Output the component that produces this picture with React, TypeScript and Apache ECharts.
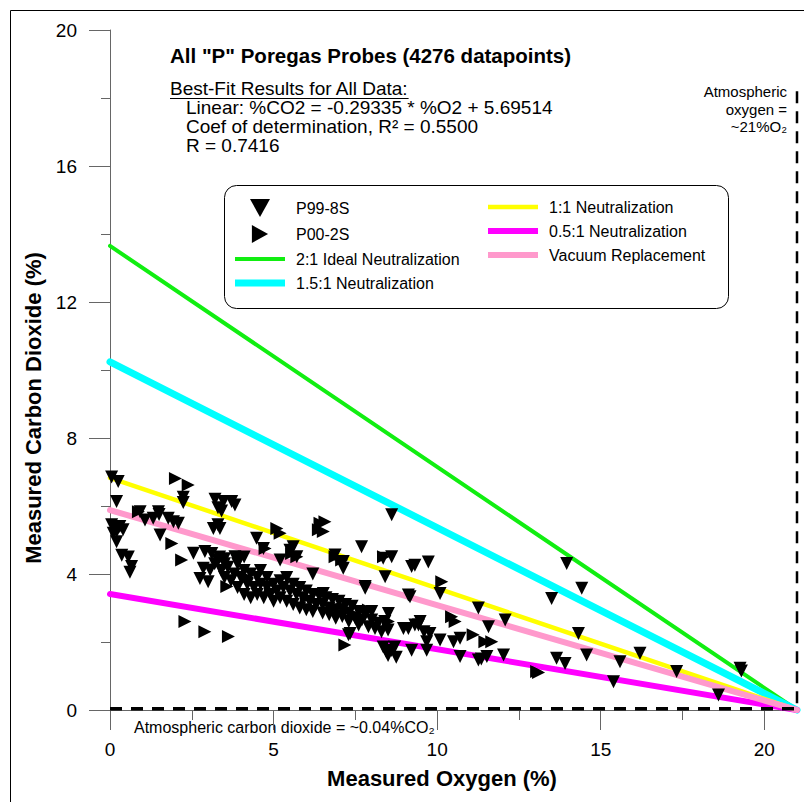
import React, { useEffect, useRef } from 'react';
import * as echarts from 'echarts';

// ---- data ----
const xTickValues = [0, 5, 10, 15, 20];
const xMinorTickValues = [2.5, 7.5, 12.5, 17.5];

const seriesNames = [
  'P99-8S',
  'P00-2S',
  '2:1 Ideal Neutralization',
  '1.5:1 Neutralization',
  '1:1 Neutralization',
  '0.5:1 Neutralization',
  'Vacuum Replacement',
];

const idealNeutralization = [[0, 13.65], [21, 0]];
const neutralization15 = [[0, 10.24], [21, 0]];
const neutralization1 = [[0, 6.83], [21, 0]];
const neutralization05 = [[0, 3.41], [21, 0]];
const vacuumReplacement = [[0, 5.88], [21, 0]];
const atmosphericCO2Line = [[0, 0.04], [21, 0.04]];
const atmosphericO2Line = [[21, 18.2], [21, 0]];

const p99_8S = [
  [0.05, 6.85], [0.25, 6.72], [0.2, 6.13], [0.05, 5.45], [0.15, 5.35], [0.3, 5.4], [0.4, 5.3],
  [0.2, 5.25], [0.1, 5.2], [0.2, 4.95], [0.36, 4.55], [0.56, 4.5], [0.66, 4.22], [0.61, 4.05],
  [0.92, 5.83], [1.07, 5.59], [1.32, 5.64], [1.48, 5.83], [1.5, 5.75], [1.78, 5.64], [1.94, 5.54],
  [2.09, 5.49], [1.53, 5.15], [2.24, 6.26], [2.24, 6.1], [3.21, 6.2], [3.47, 6.13], [3.72, 6.13],
  [3.82, 6.03], [3.3, 5.95], [3.41, 5.85], [3.16, 5.34], [3.36, 5.34], [3.3, 5.45],
  [2.55, 4.61], [2.9, 4.66], [3.11, 4.6], [2.85, 4.17], [3.06, 4.12], [2.75, 3.87], [3.0, 3.77],
  [3.2, 4.3], [3.35, 4.5], [3.5, 4.45], [3.82, 4.51], [3.97, 4.46], [4.48, 5.05], [4.69, 4.75],
  [5.6, 4.8], [5.5, 4.7], [5.71, 4.51], [5.2, 4.41],
  [6.88, 4.56], [7.13, 4.37], [7.13, 4.17], [7.69, 4.8], [8.35, 4.46], [8.61, 4.51], [8.61, 5.74],
  [9.22, 4.22], [9.73, 4.35], [9.32, 4.26], [8.41, 3.92], [7.8, 3.58], [9.17, 3.33], [6.52, 3.43],
  [6.2, 4.0], [4.1, 4.5],
  [3.3, 4.4], [3.4, 4.1], [3.5, 4.3], [3.5, 3.9], [3.6, 4.2], [3.7, 3.8], [3.8, 4.0], [3.9, 4.3],
  [3.9, 3.6], [4.0, 3.9], [4.1, 4.1], [4.1, 3.4], [4.2, 3.7], [4.3, 4.0], [4.3, 3.3], [4.4, 3.6],
  [4.5, 3.9], [4.5, 3.4], [4.6, 3.7], [4.6, 4.1], [4.7, 3.3], [4.8, 3.6], [4.8, 3.9], [4.9, 3.4],
  [5.0, 3.7], [5.0, 3.2], [5.1, 3.5], [5.2, 3.8], [5.2, 3.3], [5.3, 3.6], [5.4, 3.2], [5.4, 3.9],
  [5.5, 3.5], [5.6, 3.1], [5.6, 3.7], [5.7, 3.4], [5.8, 3.0], [5.8, 3.6], [5.9, 3.3], [6.0, 3.5],
  [6.0, 2.95], [6.1, 3.2], [6.2, 3.4], [6.2, 2.9], [6.3, 3.1], [6.4, 3.35], [6.5, 2.85], [6.5, 3.1],
  [6.6, 3.3], [6.7, 2.8], [6.7, 3.0], [6.8, 3.25], [6.9, 2.7], [6.9, 2.95], [7.0, 3.2], [7.1, 2.75],
  [7.1, 2.95], [7.2, 3.1], [7.3, 2.6], [7.3, 2.85], [7.4, 3.05], [7.5, 2.7], [7.6, 2.5], [7.6, 2.9],
  [7.7, 2.65], [7.8, 2.8], [7.9, 2.45], [8.0, 2.65], [8.0, 2.9], [8.1, 2.4], [8.2, 2.55], [8.3, 2.3],
  [8.4, 2.6], [8.5, 2.35],
  [8.35, 1.85], [8.5, 1.6], [8.6, 1.75], [8.75, 1.55], [8.45, 1.7], [8.7, 1.85], [9.22, 1.76],
  [9.12, 2.4], [9.43, 2.5], [8.97, 2.4], [9.32, 2.5], [7.34, 2.25], [7.29, 2.21], [9.68, 2.01],
  [9.68, 1.76], [9.78, 2.25], [9.6, 2.3], [10.09, 2.06], [10.5, 2.01], [10.7, 2.11], [10.7, 1.57],
  [9.48, 2.6], [11.26, 3.0], [11.57, 2.45], [12.08, 2.65], [11.26, 1.47], [11.35, 1.5], [11.52, 1.57],
  [12.03, 1.62], [10.09, 3.43], [9.12, 3.38], [7.8, 3.63], [8.51, 2.84],
  [13.96, 4.31], [14.42, 3.58], [13.5, 3.28], [14.32, 2.25], [14.57, 1.62], [13.65, 1.52],
  [13.91, 1.37], [15.59, 1.42], [15.39, 0.83], [16.2, 1.67], [17.32, 1.13], [19.26, 1.23],
  [19.3, 1.15], [18.6, 0.44],
];

const p00_2S = [
  [0.87, 5.83], [2.0, 6.81], [2.39, 6.62], [1.89, 4.9], [2.19, 4.41], [3.57, 3.63], [5.1, 5.34],
  [5.2, 5.2], [6.42, 5.49], [6.57, 5.54], [6.52, 5.25], [6.37, 5.3], [6.88, 4.51], [7.08, 4.41],
  [8.36, 4.51], [5.71, 4.51], [5.55, 4.6], [4.74, 4.75], [2.29, 2.6], [2.9, 2.3], [3.62, 2.16],
  [7.18, 1.91], [8.51, 2.6], [7.9, 2.94], [10.14, 3.77], [10.44, 2.74], [10.55, 2.6], [11.1, 2.21],
  [11.46, 2.01], [11.67, 2.01], [13.04, 1.13], [13.1, 1.1], [4.9, 3.5], [6.0, 3.3], [7.5, 2.8],
  [4.2, 3.9],
];

const FONT = '"Liberation Sans", Arial, Helvetica, sans-serif';
const AXIS_GRAY = '#666666';
const DOWN_TRI = 'path://M0,0 L20,0 L10,18 Z';
const RIGHT_TRI = 'path://M0,0 L18,10 L0,20 Z';
const bar = (h: number) => `path://M0,0 L50,0 L50,${h} L0,${h} Z`;

function textWidth(text: string, font: string) {
  const c = document.createElement('canvas').getContext('2d');
  if (!c) return 0;
  c.font = font;
  return c.measureText(text).width;
}

export default function App() {
  const ref = useRef<HTMLDivElement>(null);

  useEffect(() => {
    if (!ref.current) return;
    const chart = echarts.init(ref.current, null, { renderer: 'svg' });

    const lineSeries = (name: string, data: number[][], color: string, width: number) => ({
      name,
      type: 'line',
      data,
      symbol: 'none',
      clip: false,
      z: 2,
      lineStyle: { color, width, cap: 'round' },
      itemStyle: { color },
    });

    const legendText = { fontSize: 16, fontFamily: FONT, color: '#000', padding: [0, 0, 0, 6] };
    const annFont = `19px ${FONT}`;
    const bestFitText = 'Best-Fit Results for All Data:';
    const underlineW = textWidth(bestFitText, annFont) || 240;

    chart.setOption({
      animation: false,
      textStyle: { fontFamily: FONT },
      grid: { left: 110, top: 30, right: 7, bottom: 92, containLabel: false },
      xAxis: [
        {
          type: 'value',
          min: 0,
          max: 21,
          position: 'bottom',
          axisLine: { show: true, onZero: false, lineStyle: { color: AXIS_GRAY, width: 1 } },
          axisTick: { show: true, customValues: xTickValues, length: 20, lineStyle: { color: AXIS_GRAY } },
          axisLabel: { customValues: xTickValues, fontSize: 19, color: '#000', margin: 30, fontFamily: FONT },
          splitLine: { show: false },
        },
        {
          type: 'value',
          min: 0,
          max: 21,
          position: 'bottom',
          axisLine: { show: false },
          axisTick: { show: true, customValues: xMinorTickValues, length: 10, lineStyle: { color: AXIS_GRAY } },
          axisLabel: { show: false },
          splitLine: { show: false },
        },
      ],
      yAxis: {
        type: 'value',
        min: 0,
        max: 20,
        interval: 4,
        axisLine: { show: true, onZero: false, lineStyle: { color: AXIS_GRAY, width: 1 } },
        axisTick: { show: true, length: 21, lineStyle: { color: AXIS_GRAY } },
        minorTick: { show: true, splitNumber: 2, length: 9, lineStyle: { color: AXIS_GRAY } },
        axisLabel: { fontSize: 19, color: '#000', margin: 33, fontFamily: FONT },
        splitLine: { show: false },
      },
      legend: [
        {
          orient: 'vertical',
          left: 235,
          top: 199,
          padding: 0,
          itemWidth: 50,
          itemHeight: 18,
          itemGap: 8,
          selectedMode: false,
          data: [
            { name: seriesNames[0], icon: DOWN_TRI },
            { name: seriesNames[1], icon: RIGHT_TRI },
            { name: seriesNames[2], icon: bar(4) },
            { name: seriesNames[3], icon: bar(7) },
          ],
          textStyle: legendText,
        },
        {
          orient: 'vertical',
          left: 488,
          top: 199,
          padding: 0,
          itemWidth: 50,
          itemHeight: 18,
          itemGap: 8,
          selectedMode: false,
          data: [
            { name: seriesNames[4], icon: bar(4.5) },
            { name: seriesNames[5], icon: bar(6) },
            { name: seriesNames[6], icon: bar(6) },
          ],
          textStyle: legendText,
        },
      ],
      series: [
        {
          name: seriesNames[0],
          type: 'scatter',
          data: p99_8S,
          symbol: 'triangle',
          symbolRotate: 180,
          symbolSize: 13,
          z: 3,
          itemStyle: { color: '#000', opacity: 1 },
        },
        {
          name: seriesNames[1],
          type: 'scatter',
          data: p00_2S,
          symbol: 'triangle',
          symbolRotate: -90,
          symbolSize: 13,
          z: 3,
          itemStyle: { color: '#000', opacity: 1 },
        },
        lineSeries(seriesNames[2], idealNeutralization, '#11ee11', 4),
        lineSeries(seriesNames[3], neutralization15, '#00ffff', 7),
        lineSeries(seriesNames[4], neutralization1, '#ffff00', 4.5),
        lineSeries(seriesNames[5], neutralization05, '#ff00ff', 6),
        lineSeries(seriesNames[6], vacuumReplacement, '#ff99cc', 6),
        {
          name: 'atmCO2',
          type: 'line',
          data: atmosphericCO2Line,
          symbol: 'none',
          clip: false,
          z: 4,
          lineStyle: { color: '#000', width: 3.5, type: [12, 9] },
        },
        {
          name: 'atmO2',
          type: 'line',
          data: atmosphericO2Line,
          symbol: 'none',
          clip: false,
          z: 4,
          lineStyle: { color: '#000', width: 2.5, type: [12, 8] },
        },
      ],
      graphic: [
        {
          type: 'rect',
          shape: { x: 10.5, y: 10.5, width: 1000, height: 1000 },
          style: { fill: 'none', stroke: '#000', lineWidth: 1 },
          silent: true,
          z: 0,
        },
        {
          type: 'rect',
          shape: { x: 224.5, y: 185.5, width: 504, height: 123, r: 12 },
          style: { fill: '#fff', stroke: '#000', lineWidth: 1 },
          silent: true,
          z: 1,
        },
        {
          type: 'text',
          x: 170,
          y: 55,
          style: {
            text: 'All "P" Poregas Probes (4276 datapoints)',
            font: `bold 20.5px ${FONT}`,
            fill: '#000',
            verticalAlign: 'middle',
          },
        },
        {
          type: 'text',
          x: 170,
          y: 88,
          style: { text: bestFitText, font: annFont, fill: '#000', verticalAlign: 'middle' },
        },
        {
          type: 'line',
          shape: { x1: 170, y1: 98.5, x2: 170 + underlineW, y2: 98.5 },
          style: { stroke: '#000', lineWidth: 1 },
        },
        {
          type: 'text',
          x: 186,
          y: 107,
          style: { text: 'Linear: %CO2 = -0.29335 * %O2 + 5.69514', font: annFont, fill: '#000', verticalAlign: 'middle' },
        },
        {
          type: 'text',
          x: 186,
          y: 126,
          style: { text: 'Coef of determination, R\u00B2 = 0.5500', font: annFont, fill: '#000', verticalAlign: 'middle' },
        },
        {
          type: 'text',
          x: 186,
          y: 145,
          style: { text: 'R = 0.7416', font: annFont, fill: '#000', verticalAlign: 'middle' },
        },
        {
          type: 'text',
          x: 787,
          y: 83,
          style: {
            text: 'Atmospheric\noxygen =\n~21%O\u2082',
            font: `15px ${FONT}`,
            fill: '#000',
            align: 'right',
            verticalAlign: 'top',
            lineHeight: 17.5,
          },
        },
        {
          type: 'text',
          x: 134,
          y: 727,
          style: {
            text: 'Atmospheric carbon dioxide = ~0.04%CO\u2082',
            font: `16px ${FONT}`,
            fill: '#000',
            verticalAlign: 'middle',
          },
        },
        {
          type: 'text',
          x: 442,
          y: 778,
          style: {
            text: 'Measured Oxygen (%)',
            font: `bold 22px ${FONT}`,
            fill: '#000',
            align: 'center',
            verticalAlign: 'middle',
          },
        },
        {
          type: 'text',
          x: 33,
          y: 408,
          rotation: Math.PI / 2,
          style: {
            text: 'Measured Carbon Dioxide (%)',
            font: `bold 22px ${FONT}`,
            fill: '#000',
            align: 'center',
            verticalAlign: 'middle',
          },
        },
      ],
    });

    return () => chart.dispose();
  }, []);

  return (
    <div
      ref={ref}
      style={{ position: 'fixed', left: 0, top: 0, width: 804, height: 802, background: '#fff' }}
    />
  );
}
